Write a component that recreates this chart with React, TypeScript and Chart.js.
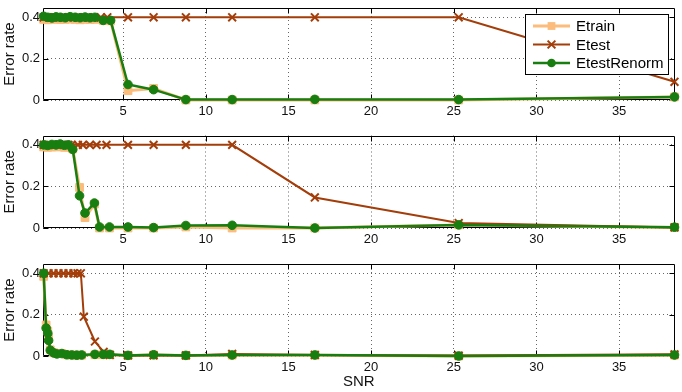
import React, { useEffect, useRef } from 'react';
import { Chart, registerables } from 'chart.js';
Chart.register(...registerables);

const FONT = '"Liberation Sans", Arial, Helvetica, sans-serif';
const X_MIN = 0.16;
const X_MAX = 38.35;
const Y_MIN = 0;
const Y_MAX = 0.445;
const xTicks = [5, 10, 15, 20, 25, 30, 35];
const yTicks = [0, 0.2, 0.4];
const yTickLabels = ['0', '0.2', '0.4'];
const seriesNames = ['Etrain', 'Etest', 'EtestRenorm'];
const xTitle = 'SNR';
const yTitle = 'Error rate';

const COL_TRAIN = 'rgb(251,188,124)';
const COL_TEST = 'rgb(163,62,10)';
const COL_RENORM = 'rgb(24,126,16)';

// ---- Panel 1 ----
const snrTrain1 = [0.2, 0.45, 0.7, 0.95, 1.2, 1.5, 1.8, 2.1, 2.4, 2.7, 3.0, 3.3, 3.8, 4.25, 5.3, 6.85, 8.8, 11.6, 16.6, 25.3, 38.35];
const etrain1 = [0.39, 0.388, 0.39, 0.392, 0.389, 0.39, 0.391, 0.39, 0.388, 0.39, 0.39, 0.39, 0.385, 0.383, 0.045, 0.056, 0.0, 0.0, 0.0, 0.0, 0.015];
const snrTest1 = [0.2, 0.5, 0.8, 1.1, 1.4, 1.7, 2.0, 2.3, 2.6, 2.9, 3.25, 3.66, 4.05, 5.3, 6.85, 8.8, 11.6, 16.6, 25.3, 38.35];
const etest1 = [0.4, 0.4, 0.4, 0.4, 0.4, 0.4, 0.4, 0.4, 0.4, 0.4, 0.4, 0.4, 0.4, 0.4, 0.4, 0.4, 0.4, 0.4, 0.4, 0.088];
const snrRenorm1 = [0.2, 0.45, 0.7, 0.95, 1.2, 1.5, 1.8, 2.1, 2.4, 2.7, 3.0, 3.3, 3.8, 4.25, 5.3, 6.85, 8.8, 11.6, 16.6, 25.3, 38.35];
const renorm1 = [0.405, 0.4, 0.397, 0.402, 0.4, 0.398, 0.403, 0.4, 0.398, 0.401, 0.398, 0.4, 0.385, 0.385, 0.075, 0.05, 0.002, 0.002, 0.003, 0.002, 0.015];

// ---- Panel 2 ----
const snrTrain2 = [0.2, 0.45, 0.7, 0.95, 1.2, 1.45, 1.7, 1.96, 2.37, 2.7, 3.27, 3.58, 4.18, 5.3, 6.85, 8.8, 11.6, 16.6, 25.3, 38.35];
const etrain2 = [0.39, 0.388, 0.39, 0.39, 0.392, 0.388, 0.39, 0.38, 0.195, 0.05, 0.115, 0.0, 0.0, 0.0, 0.0, 0.005, 0.0, 0.0, 0.015, 0.003];
const snrTest2 = [0.2, 0.5, 0.8, 1.1, 1.4, 1.7, 1.9, 2.27, 2.57, 2.99, 3.4, 4.0, 5.3, 6.85, 8.8, 11.6, 16.6, 25.3, 38.35];
const etest2 = [0.4, 0.4, 0.4, 0.4, 0.4, 0.4, 0.4, 0.4, 0.4, 0.4, 0.4, 0.4, 0.4, 0.4, 0.4, 0.4, 0.147, 0.024, 0.003];
const snrRenorm2 = [0.2, 0.45, 0.7, 0.95, 1.2, 1.45, 1.7, 1.96, 2.37, 2.7, 3.27, 3.58, 4.18, 5.3, 6.85, 8.8, 11.6, 16.6, 25.3, 38.35];
const renorm2 = [0.4, 0.397, 0.402, 0.4, 0.404, 0.398, 0.4, 0.378, 0.155, 0.072, 0.12, 0.005, 0.005, 0.005, 0.002, 0.012, 0.013, 0.0, 0.015, 0.004];

// ---- Panel 3 ----
const snrTrain3 = [0.2, 0.35, 0.45, 0.5, 0.6, 0.8, 1.0, 1.3, 1.6, 1.9, 2.2, 2.5, 3.3, 3.8, 4.2, 5.3, 6.85, 8.8, 11.6, 16.6, 25.3, 38.35];
const etrain3 = [0.385, 0.15, 0.12, 0.085, 0.03, 0.016, 0.012, 0.012, 0.006, 0.005, 0.004, 0.004, 0.006, 0.006, 0.006, 0.002, 0.005, 0.002, 0.004, 0.004, 0.0, 0.004];
const snrTest3 = [0.2, 0.5, 0.8, 1.1, 1.4, 1.7, 2.0, 2.25, 2.45, 2.63, 3.3, 3.83, 4.2, 5.3, 6.85, 8.8, 11.6, 16.6, 25.3, 38.35];
const etest3 = [0.4, 0.4, 0.4, 0.4, 0.4, 0.4, 0.4, 0.4, 0.4, 0.19, 0.07, 0.02, 0.005, 0.003, 0.003, 0.003, 0.01, 0.005, 0.002, 0.008];
const snrRenorm3 = [0.2, 0.35, 0.45, 0.5, 0.6, 0.8, 1.0, 1.3, 1.6, 1.9, 2.2, 2.5, 3.3, 3.8, 4.2, 5.3, 6.85, 8.8, 11.6, 16.6, 25.3, 38.35];
const renorm3 = [0.4, 0.135, 0.11, 0.075, 0.028, 0.015, 0.01, 0.012, 0.006, 0.005, 0.004, 0.005, 0.008, 0.008, 0.008, 0.003, 0.006, 0.003, 0.005, 0.005, 0.0, 0.005];

const pts = (xs: number[], ys: number[]) => xs.map((x, i) => ({ x, y: ys[i] }));

const styleTrain = {
  borderColor: COL_TRAIN, backgroundColor: COL_TRAIN, borderWidth: 3,
  pointStyle: 'rect', pointRadius: 5.5, pointBorderWidth: 1, order: 2,
};
const styleTest = {
  borderColor: COL_TEST, backgroundColor: COL_TEST, borderWidth: 2,
  pointStyle: 'crossRot', pointRadius: 5.5, pointBorderWidth: 2, order: 1,
};
const styleRenorm = {
  borderColor: COL_RENORM, backgroundColor: COL_RENORM, borderWidth: 2.5,
  pointStyle: 'circle', pointRadius: 4.3, pointBorderWidth: 1, order: 0,
};

const framePlugin = {
  id: 'frame',
  beforeDatasetsDraw(chart: any) {
    const { ctx, chartArea: a, scales } = chart;
    ctx.save();
    ctx.strokeStyle = '#000';
    ctx.lineWidth = 1;
    ctx.setLineDash([]);
    ctx.beginPath();
    const L = Math.round(a.left) + 0.5, R = Math.round(a.right) - 0.5;
    const T = Math.round(a.top) + 0.5, B = Math.round(a.bottom) - 0.5;
    ctx.rect(L, T, R - L, B - T);
    const tl = 5;
    for (const v of xTicks) {
      const px = Math.round(scales.x.getPixelForValue(v)) + 0.5;
      ctx.moveTo(px, B); ctx.lineTo(px, B - tl);
      ctx.moveTo(px, T); ctx.lineTo(px, T + tl);
    }
    for (const v of yTicks) {
      const py = Math.round(scales.y.getPixelForValue(v)) + 0.5;
      ctx.moveTo(L, py); ctx.lineTo(L + tl, py);
      ctx.moveTo(R, py); ctx.lineTo(R - tl, py);
    }
    ctx.stroke();
    ctx.restore();
  },
};

function drawMarker(ctx: CanvasRenderingContext2D, style: string, r: number, x: number, y: number) {
  ctx.beginPath();
  if (style === 'rect') {
    const s = r * Math.SQRT1_2;
    ctx.rect(x - s, y - s, 2 * s, 2 * s);
    ctx.fill();
  } else if (style === 'crossRot') {
    const s = r * Math.SQRT1_2;
    ctx.moveTo(x - s, y - s); ctx.lineTo(x + s, y + s);
    ctx.moveTo(x - s, y + s); ctx.lineTo(x + s, y - s);
    ctx.stroke();
  } else {
    ctx.arc(x, y, r, 0, Math.PI * 2);
    ctx.fill();
  }
}

const legendPlugin = {
  id: 'mlLegend',
  afterDraw(chart: any) {
    const { ctx } = chart;
    ctx.save();
    const bx = 525.5, by = 14.5, bw = 143, bh = 60;
    ctx.fillStyle = '#fff';
    ctx.fillRect(bx, by, bw, bh);
    ctx.strokeStyle = '#000';
    ctx.lineWidth = 1;
    ctx.strokeRect(bx, by, bw, bh);
    const styles: any[] = [styleTrain, styleTest, styleRenorm];
    const ys = [26, 44.5, 63];
    styles.forEach((s, i) => {
      const y = ys[i];
      ctx.strokeStyle = s.borderColor;
      ctx.lineWidth = s.borderWidth;
      ctx.beginPath();
      ctx.moveTo(533, y); ctx.lineTo(570, y);
      ctx.stroke();
      ctx.fillStyle = s.backgroundColor;
      ctx.lineWidth = s.pointStyle === 'crossRot' ? 2 : 1;
      drawMarker(ctx, s.pointStyle, s.pointRadius, 551.5, y);
      ctx.fillStyle = '#000';
      ctx.font = `15px ${FONT}`;
      ctx.textBaseline = 'middle';
      ctx.textAlign = 'left';
      ctx.fillText(seriesNames[i], 576, y + 1);
    });
    ctx.restore();
  },
};

type PanelProps = {
  top: number; height: number; padTop: number; xAxisH: number;
  train: { x: number; y: number }[]; test: { x: number; y: number }[]; renorm: { x: number; y: number }[];
  showLegend?: boolean; showXTitle?: boolean;
};

function Panel(p: PanelProps) {
  const ref = useRef<HTMLCanvasElement>(null);
  useEffect(() => {
    if (!ref.current) return;
    const chart = new Chart(ref.current, {
      type: 'line',
      data: {
        datasets: [
          { label: seriesNames[2], data: p.renorm, ...styleRenorm, clip: false } as any,
          { label: seriesNames[1], data: p.test, ...styleTest, clip: false } as any,
          { label: seriesNames[0], data: p.train, ...styleTrain, clip: false } as any,
        ],
      },
      options: {
        animation: false,
        responsive: false,
        events: [],
        layout: { padding: { top: p.padTop, right: 7, left: 0, bottom: 0 } },
        plugins: { legend: { display: false }, tooltip: { enabled: false } },
        scales: {
          x: {
            type: 'linear', min: X_MIN, max: X_MAX,
            afterBuildTicks: (s: any) => { s.ticks = xTicks.map((v) => ({ value: v })); },
            afterFit: (s: any) => { s.height = p.xAxisH; s.paddingLeft = 0; s.paddingRight = 0; },
            grid: { color: 'rgba(0,0,0,0.6)', lineWidth: 1, drawTicks: false },
            border: { display: false, dash: [1, 3] },
            ticks: { padding: 4, color: '#111', font: { family: FONT, size: 13 }, maxRotation: 0, autoSkip: false, callback: (v: any) => String(v) },
            title: {
              display: !!p.showXTitle, text: xTitle, color: '#111',
              font: { family: FONT, size: 15 }, padding: { top: 0, bottom: 1 },
            },
          },
          y: {
            type: 'linear', min: Y_MIN, max: Y_MAX,
            afterBuildTicks: (s: any) => { s.ticks = yTicks.map((v) => ({ value: v })); },
            afterFit: (s: any) => { s.width = 43; s.paddingTop = 0; s.paddingBottom = 0; },
            grid: { color: 'rgba(0,0,0,0.6)', lineWidth: 1, drawTicks: false },
            border: { display: false, dash: [1, 3] },
            ticks: {
              padding: 3, color: '#111', font: { family: FONT, size: 13 },
              callback: (v: any) => yTickLabels[yTicks.indexOf(Number(v))] ?? String(v),
            },
            title: {
              display: true, text: yTitle, color: '#111',
              font: { family: FONT, size: 15 }, padding: { top: 1, bottom: 0 },
            },
          },
        },
      } as any,
      plugins: p.showLegend ? [framePlugin, legendPlugin] : [framePlugin],
    });
    return () => chart.destroy();
  }, []);
  return (
    <canvas
      ref={ref}
      width={682}
      height={p.height}
      style={{ position: 'absolute', left: 0, top: p.top, width: 682, height: p.height }}
    />
  );
}

export default function App() {
  return (
    <div style={{ position: 'relative', width: 682, height: 392, background: '#fff' }}>
      <style>{'body{margin:0;background:#fff}'}</style>
      <Panel top={0} height={128} padTop={8} xAxisH={28}
        train={pts(snrTrain1, etrain1)} test={pts(snrTest1, etest1)} renorm={pts(snrRenorm1, renorm1)} showLegend />
      <Panel top={128} height={128} padTop={7} xAxisH={28}
        train={pts(snrTrain2, etrain2)} test={pts(snrTest2, etest2)} renorm={pts(snrRenorm2, renorm2)} />
      <Panel top={256} height={136} padTop={8} xAxisH={36}
        train={pts(snrTrain3, etrain3)} test={pts(snrTest3, etest3)} renorm={pts(snrRenorm3, renorm3)} showXTitle />
    </div>
  );
}
